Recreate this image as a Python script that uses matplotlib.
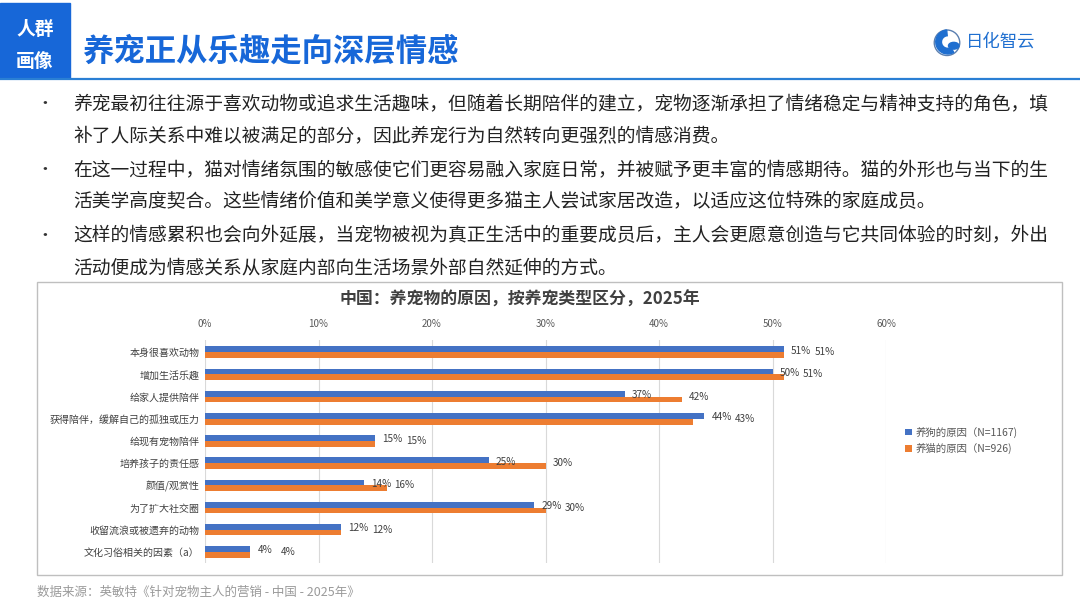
import matplotlib.pyplot as plt
import matplotlib.patches as mpatches
import numpy as np

plt.rcParams['font.family'] = ['Noto Sans CJK SC', 'DejaVu Sans']

# data
categories = ['本身很喜欢动物', '增加生活乐趣', '给家人提供陪伴', '获得陪伴，缓解自己的孤独或压力',
              '给现有宠物陪伴', '培养孩子的责任感', '颜值/观赏性', '为了扩大社交圈',
              '收留流浪或被遗弃的动物', '文化习俗相关的因素（a）']
dog = [51, 50, 37, 44, 15, 25, 14, 29, 12, 4]
cat = [51, 51, 42, 43, 15, 30, 16, 30, 12, 4]
series_names = ['养狗的原因（N=1167)', '养猫的原因（N=926)']
x_ticks = [0, 10, 20, 30, 40, 50, 60]

bullets = [
    ['养宠最初往往源于喜欢动物或追求生活趣味，但随着长期陪伴的建立，宠物逐渐承担了情绪稳定与精神支持的角色，填',
     '补了人际关系中难以被满足的部分，因此养宠行为自然转向更强烈的情感消费。'],
    ['在这一过程中，猫对情绪氛围的敏感使它们更容易融入家庭日常，并被赋予更丰富的情感期待。猫的外形也与当下的生',
     '活美学高度契合。这些情绪价值和美学意义使得更多猫主人尝试家居改造，以适应这位特殊的家庭成员。'],
    ['这样的情感累积也会向外延展，当宠物被视为真正生活中的重要成员后，主人会更愿意创造与它共同体验的时刻，外出',
     '活动便成为情感关系从家庭内部向生活场景外部自然延伸的方式。'],
]

BLUE = '#1767d8'
DOG_C = '#4472c4'
CAT_C = '#ed7d31'
W, H = 1080, 608

fig = plt.figure(figsize=(10.8, 6.08), dpi=100)
fig.patch.set_facecolor('white')


def fx(px):
    return px / W


def fy(py):
    return 1 - py / H


# header
fig.patches.append(mpatches.Rectangle((0, fy(78)), fx(70), fy(3) - fy(78),
                                      transform=fig.transFigure, color=BLUE, zorder=1))
fig.text(fx(35), fy(29), '人群', color='white', fontsize=13.5, fontweight='bold',
         ha='center', va='center')
fig.text(fx(35), fy(62), '画像', color='white', fontsize=13.5, fontweight='bold',
         ha='center', va='center')
fig.text(fx(82), fy(52), '养宠正从乐趣走向深层情感', color=BLUE, fontsize=22.6,
         fontweight='heavy', ha='left', va='center')
fig.lines.append(plt.Line2D([0, 1], [fy(79), fy(79)], transform=fig.transFigure,
                            color='#2a7fd4', lw=1.6))

# logo
lax = fig.add_axes([fx(932), fy(62), fx(30), fy(22) - fy(62)])
lax.set_xlim(-1, 1)
lax.set_ylim(-1, 1)
lax.set_aspect('equal')
lax.axis('off')
lax.add_patch(mpatches.Circle((0, -0.05), 0.85, fill=False, ec='#5a7fb0', lw=1.0))
lax.add_patch(mpatches.Wedge((0.05, 0.0), 0.8, 95, 300, width=0.38, color='#1f6fd0'))
lax.add_patch(mpatches.Ellipse((0.45, -0.25), 0.7, 0.45, color='#1f6fd0'))
fig.text(fx(966), fy(42), '日化智云', color='#1f6fd0', fontsize=12.5, ha='left', va='center')

# bullet text
line_y = [104, 136, 170, 202, 236, 268]
k = 0
for para in bullets:
    for j, line in enumerate(para):
        if j == 0:
            fig.text(fx(45), fy(line_y[k]), '•', fontsize=12, color='#333333',
                     ha='center', va='center')
        fig.text(fx(73), fy(line_y[k]), line, fontsize=13.5, color='#222222',
                 ha='left', va='center')
        k += 1

# chart frame
fig.patches.append(mpatches.Rectangle((fx(37), fy(575)), fx(1062 - 37), fy(282) - fy(575),
                                      transform=fig.transFigure, fill=False,
                                      ec='#bfbfbf', lw=1.0))
fig.text(fx(520), fy(300), '中国：养宠物的原因，按养宠类型区分，2025年', fontsize=12.2,
         fontweight='bold', color='#404040', ha='center', va='center')

ax = fig.add_axes([fx(205), fy(563), fx(886 - 205), fy(340) - fy(563)])
y = np.arange(len(categories))
h = 0.26
ax.barh(y - h / 2, dog, height=h, color=DOG_C, zorder=3, label=series_names[0])
ax.barh(y + h / 2, cat, height=h, color=CAT_C, zorder=3, label=series_names[1])
ax.set_xlim(0, 60)
ax.set_ylim(9.5, -0.55)
ax.set_xticks(x_ticks)
ax.set_xticklabels([f'{t}%' for t in x_ticks], color='#595959', fontsize=7)
ax.xaxis.tick_top()
ax.tick_params(axis='x', length=0, pad=8)
ax.set_yticks(y)
ax.set_yticklabels(categories, fontsize=7.2, color='#404040')
ax.tick_params(axis='y', length=0, pad=4)
ax.grid(axis='x', color='#d9d9d9', lw=0.8, zorder=0)
for s in ax.spines.values():
    s.set_visible(False)
ax.set_facecolor('none')

px_per_unit = (886 - 205) / 60.0 * 0.72  # pixels -> points at 100 dpi
for i in range(len(categories)):
    ax.annotate(f'{dog[i]}%', (dog[i], y[i] - h / 2), xytext=(5, -1), textcoords='offset points',
                fontsize=7.2, color='#404040', va='center', ha='left')
    # keep the cat label clear of the dog label when the two bars end close together
    off = 5
    gap = (cat[i] - dog[i]) * px_per_unit
    if abs(gap) < 20:
        off = max(5, 22 - gap)
    ax.annotate(f'{cat[i]}%', (cat[i], y[i] + h / 2), xytext=(off, 2), textcoords='offset points',
                fontsize=7.2, color='#404040', va='center', ha='left')

ax.legend(loc='center left', bbox_to_anchor=(fx(896 - 205) / fx(886 - 205), 0.55),
          frameon=False, fontsize=7.5, handlelength=0.6, handleheight=0.6,
          handletextpad=0.4, labelspacing=0.5, labelcolor='#595959')

fig.text(fx(37), fy(592), '数据来源：英敏特《针对宠物主人的营销 - 中国 - 2025年》', fontsize=9,
         color='#9a9a9a', ha='left', va='center')

fig.savefig('out.png', dpi=100, facecolor='white')
